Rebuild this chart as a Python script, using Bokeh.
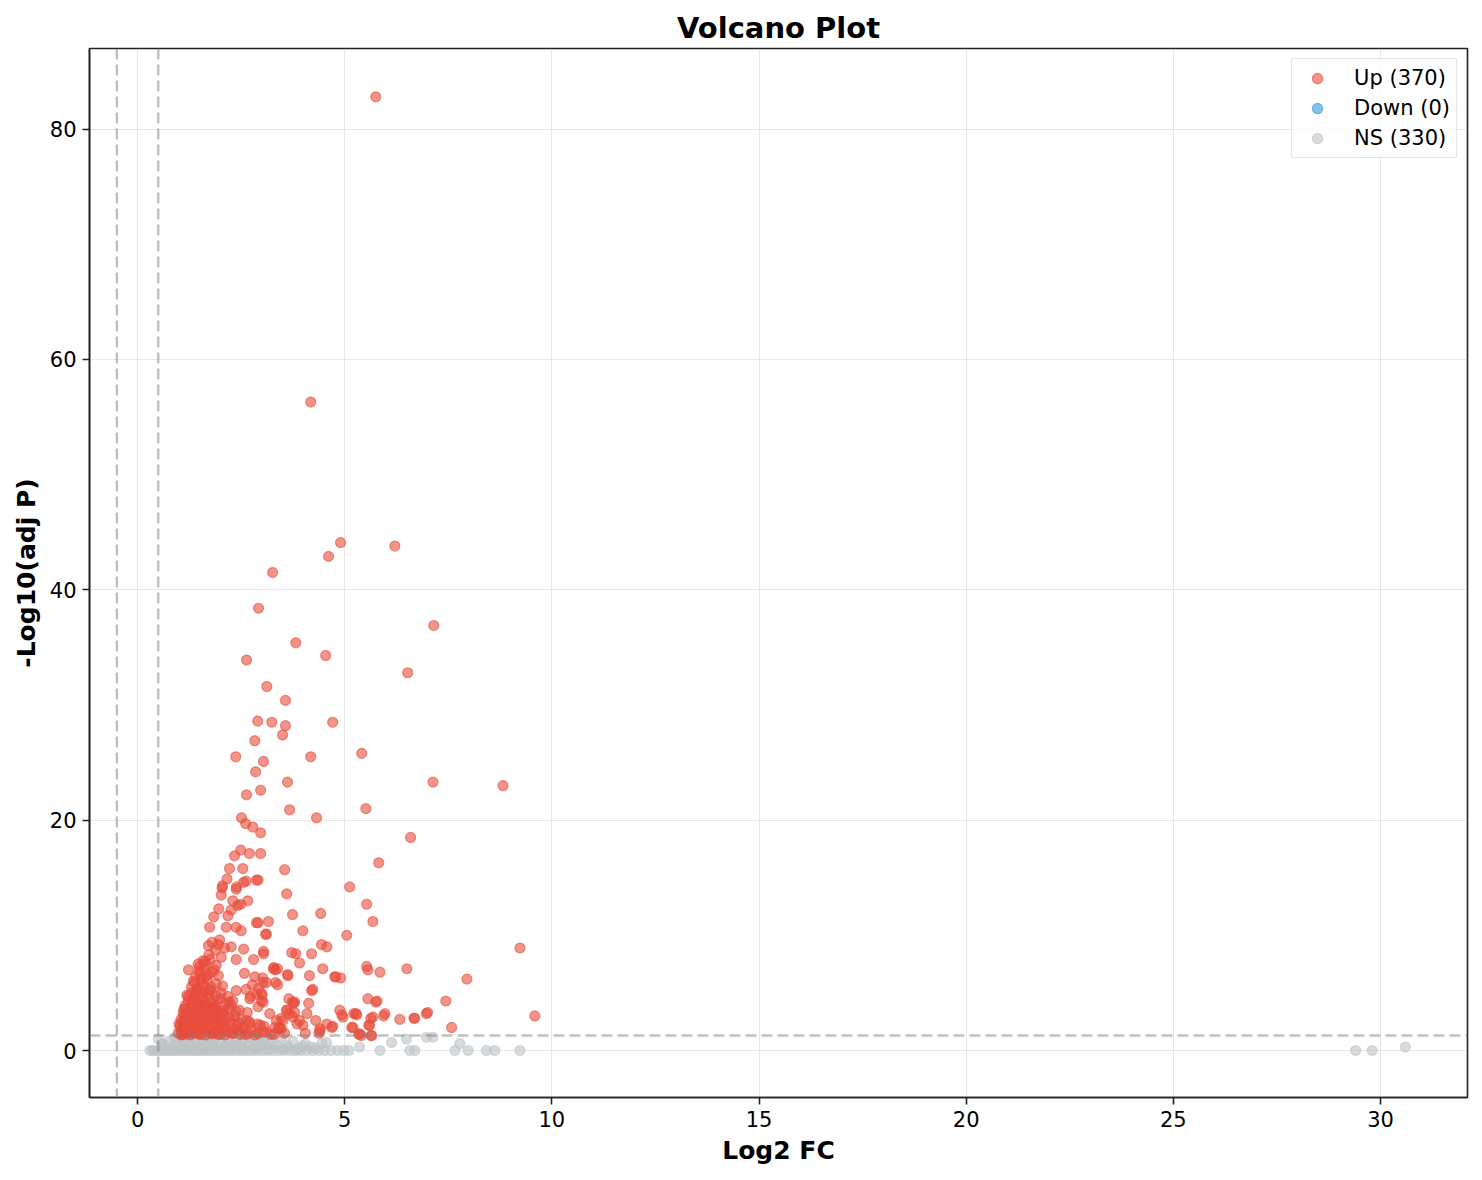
from bokeh.plotting import figure
from bokeh.models import Range1d, Span, Legend, LegendItem, FixedTicker, ColumnDataSource
from bokeh.embed import file_html
from bokeh.resources import INLINE

# counts shown in the legend
n_up = 370
n_down = 0
n_ns = 330

# significant, up-regulated genes (log2 fold change, -log10 adjusted p)
up_log2fc = [
    5.75, 4.18, 4.90, 6.21, 4.61, 3.26, 2.92, 7.15, 3.82, 4.54, 2.63, 6.52, 3.12, 3.57,
    2.90, 3.24, 4.71, 3.57, 3.50, 2.83, 2.37, 4.18, 5.41, 3.04, 2.85, 3.62, 7.13, 8.82,
    2.97, 2.63, 3.67, 5.51, 4.32, 2.51, 2.61, 2.78, 2.97, 6.59, 2.49, 2.70, 2.34, 2.97,
    5.82, 3.55, 2.54, 2.22, 2.87, 2.56, 5.12, 2.39, 2.05, 3.60, 5.53, 2.42, 3.74, 4.42,
    5.68, 3.16, 2.87, 3.99, 3.09, 5.05, 9.23, 4.44, 4.57, 3.72, 3.82, 3.04, 4.20, 3.91,
    3.28, 3.38, 5.53, 5.56, 6.50, 5.85, 4.47, 3.62, 4.15, 4.78, 4.90, 7.95, 3.02, 2.92,
    4.20, 3.38, 2.99, 2.73, 3.65, 5.56, 5.75, 7.44, 4.13, 3.74, 4.88, 4.93, 5.22, 5.29,
    5.94, 7.00, 9.59, 6.33, 6.67, 5.63, 4.57, 5.58, 5.17, 7.58, 4.71, 3.99, 4.40, 5.34,
    5.65,
    2.16, 2.62, 2.91, 2.04, 2.02, 2.38, 2.30, 2.49, 2.66, 2.26, 1.96, 1.84, 2.18, 1.74,
    2.14, 2.38, 2.50, 2.91, 3.11, 1.71, 1.98, 2.26, 2.56, 2.80, 3.04, 1.23, 1.46, 1.62,
    2.38, 2.58, 2.83, 3.29, 3.33, 3.63, 3.11, 3.33, 4.76, 2.62, 2.77, 3.03, 2.87, 2.99,
    3.01, 4.23, 3.77, 3.59, 4.09, 4.96, 5.27, 5.78, 5.68, 5.97, 5.60, 5.20, 5.40, 5.64,
    4.69, 4.40, 4.38, 3.19, 3.35, 3.47, 3.67, 3.91, 3.31, 3.47, 3.03, 2.63, 2.71, 2.54,
    2.30, 2.06, 2.46, 2.91, 3.03, 2.71, 2.38, 2.22, 1.94, 1.82, 2.22, 6.97, 6.69, 5.36,
    3.79, 3.61, 3.79, 3.75, 3.51, 3.43,
    0.98, 1.05, 1.10, 1.15, 1.20, 1.28, 1.35, 1.42, 1.50, 1.58, 1.66, 1.75, 1.83, 1.92,
    2.00, 2.10, 2.20, 2.30, 2.45, 2.60, 2.75, 2.90, 3.10, 3.30, 3.55,
    1.02, 1.08, 1.14, 1.20, 1.26, 1.33, 1.40, 1.47, 1.55, 1.62, 1.70, 1.80, 1.90, 2.00,
    2.12, 2.25, 2.40, 2.55, 2.70, 2.90, 3.05,
    1.05, 1.12, 1.18, 1.25, 1.31, 1.38, 1.45, 1.52, 1.60, 1.68, 1.77, 1.86, 1.97, 2.08,
    2.20, 2.35, 2.50,
    1.10, 1.16, 1.22, 1.29, 1.35, 1.42, 1.50, 1.57, 1.65, 1.74, 1.84, 1.95, 2.07, 2.20,
    2.38,
    1.15, 1.22, 1.30, 1.37, 1.44, 1.52, 1.60, 1.68, 1.77, 1.88, 2.00, 2.15, 2.30,
    1.22, 1.30, 1.38, 1.45, 1.52, 1.60, 1.68, 1.77, 1.88, 2.02, 2.18,
    1.30, 1.38, 1.46, 1.53, 1.60, 1.68, 1.78, 1.90, 2.05,
    1.40, 1.48, 1.55, 1.62, 1.70, 1.80, 1.95,
    1.50, 1.58, 1.65, 1.75, 1.90,
    1.00, 1.07, 1.13, 1.18, 1.24, 1.30, 1.37, 1.44, 1.52, 1.60, 1.72, 1.85, 1.96, 2.06,
    1.12, 1.19, 1.26, 1.33, 1.40, 1.47, 1.55, 1.63, 1.72, 1.82, 1.93,
    1.34, 1.42, 1.50, 1.57, 1.64, 1.73, 1.85,
    1.72, 1.80, 1.88, 1.95, 2.02, 2.10,
    1.06, 1.16, 1.27, 1.39, 1.51, 1.64, 1.79, 1.94, 2.11, 2.28, 2.48, 2.67, 2.84, 3.22,
    1.21, 1.34, 1.49, 1.66, 1.83, 2.04, 2.26, 2.44, 2.65, 2.96, 3.40, 3.85, 4.05, 4.30,
]
up_neglogp = [
    82.8, 56.3, 44.1, 43.8, 42.9, 41.5, 38.4, 36.9, 35.4, 34.3, 33.9, 32.8, 31.6, 30.4,
    28.6, 28.5, 28.5, 28.2, 27.4, 26.9, 25.5, 25.5, 25.8, 25.1, 24.2, 23.3, 23.3, 23.0,
    22.6, 22.2, 20.9, 21.0, 20.2, 20.2, 19.7, 19.4, 18.9, 18.5, 17.4, 17.1, 16.9, 17.1,
    16.3, 15.7, 15.8, 15.8, 14.8, 14.6, 14.2, 14.2, 14.3, 13.6, 12.7, 12.6, 11.8, 11.9,
    11.2, 11.2, 11.1, 10.4, 10.1, 10.0, 8.9, 9.2, 9.0, 8.5, 8.4, 8.4, 8.4, 7.6,
    7.1, 7.1, 7.3, 7.0, 7.1, 6.8, 7.1, 6.6, 6.5, 6.4, 6.3, 6.2, 6.3, 5.4,
    5.2, 5.7, 5.0, 4.7, 4.5, 4.5, 4.2, 4.3, 4.1, 4.2, 3.5, 3.1, 3.2, 3.1,
    3.0, 3.3, 3.0, 2.7, 2.8, 2.8, 2.3, 2.2, 2.0, 2.0, 2.1, 2.2, 1.7, 1.4,
    1.3,
    14.9, 14.7, 14.8, 14.1, 13.5, 14.0, 13.0, 12.7, 13.0, 12.2, 12.3, 11.6, 11.7, 10.7,
    10.7, 10.7, 10.4, 11.1, 10.1, 9.1, 9.6, 9.0, 8.8, 7.9, 8.6, 7.0, 7.5, 7.7,
    7.9, 6.7, 6.4, 7.2, 7.0, 6.5, 5.9, 5.9, 6.4, 5.3, 5.7, 5.9, 4.9, 4.3,
    4.8, 5.3, 4.1, 3.5, 3.2, 2.9, 3.2, 4.3, 2.9, 3.2, 2.2, 2.0, 1.3, 1.3,
    2.0, 1.9, 1.5, 3.2, 2.6, 2.8, 3.2, 2.6, 2.0, 1.9, 1.6, 2.6, 2.3, 1.9,
    1.9, 1.7, 3.5, 3.8, 4.2, 4.5, 5.2, 4.2, 3.5, 2.9, 2.9, 3.2, 2.8, 1.45,
    4.2, 3.5, 3.3, 2.9, 2.6, 2.0,
    1.5, 1.8, 1.4, 1.9, 1.6, 1.5, 2.0, 1.7, 1.4, 1.9, 1.6, 1.8, 1.5, 1.7,
    1.4, 1.9, 1.6, 1.5, 1.8, 1.4, 1.7, 1.5, 1.6, 1.4, 1.5,
    2.1, 2.4, 2.2, 2.6, 2.0, 2.3, 2.5, 2.1, 2.4, 2.2, 2.6, 2.0, 2.3, 2.5,
    2.1, 2.4, 2.2, 2.0, 2.5, 2.3, 2.1,
    2.7, 3.0, 2.8, 3.2, 2.9, 2.6, 3.1, 2.8, 3.0, 2.7, 3.2, 2.9, 2.6, 3.1,
    2.8, 3.0, 2.7,
    3.3, 3.6, 3.4, 3.8, 3.2, 3.5, 3.7, 3.3, 3.6, 3.4, 3.8, 3.2, 3.5, 3.7,
    3.4,
    3.9, 4.3, 4.0, 4.5, 4.1, 3.8, 4.4, 4.0, 4.2, 3.9, 4.5, 4.1, 4.3,
    4.7, 5.0, 4.6, 5.3, 4.9, 5.1, 4.6, 5.2, 4.8, 5.0, 4.7,
    5.5, 5.9, 5.4, 6.1, 5.7, 6.2, 5.5, 5.8, 5.6,
    6.4, 6.9, 6.3, 7.1, 6.6, 6.8, 6.5,
    7.3, 7.8, 7.5, 7.9, 7.4,
    2.3, 1.6, 2.7, 2.1, 2.8, 1.8, 2.6, 2.9, 2.2, 2.5, 2.0, 2.7, 1.9, 2.4,
    3.6, 4.8, 3.1, 4.2, 4.9, 3.4, 4.6, 3.9, 4.9, 3.6, 4.4,
    6.0, 5.2, 6.7, 5.6, 6.4, 5.3, 7.0,
    8.3, 9.4, 8.7, 9.2, 8.1, 8.9,
    1.35, 1.45, 1.35, 1.5, 1.4, 1.35, 1.45, 1.4, 1.35, 1.5, 1.4, 1.45, 1.35, 1.4,
    2.9, 3.4, 4.0, 3.2, 3.6, 3.3, 3.9, 2.4, 3.3, 2.2, 1.9, 2.3, 1.5, 2.6,
]

# down-regulated genes: none in this comparison
down_log2fc = []
down_neglogp = []

# not significant genes
ns_log2fc = [
    0.30, 0.36, 0.42, 0.48, 0.55, 0.62, 0.70, 0.78, 0.85, 0.92, 1.00, 1.08, 1.16, 1.24,
    1.32, 1.40, 1.48, 1.56, 1.64, 1.72, 1.80, 1.88, 1.96, 2.05, 2.14, 2.23, 2.32, 2.42,
    2.52, 2.62, 2.72, 2.83, 2.94, 3.05, 3.17, 3.29, 3.41, 3.54, 3.67, 3.80, 3.94, 4.08,
    4.22, 4.37, 4.52, 4.67, 4.82, 4.98, 5.10, 5.85, 6.57, 6.69, 7.66, 7.98, 8.42, 8.62,
    9.23, 29.4, 29.8,
    0.50, 0.60, 0.75, 0.90, 1.00, 1.10, 1.20, 1.30, 1.40, 1.50, 1.60, 1.70, 1.80, 1.90,
    2.00, 2.10, 2.20, 2.30, 2.40, 2.50, 2.60, 2.70, 2.80, 2.90, 3.00, 3.10, 3.20, 3.30,
    3.45, 3.60, 3.75, 3.90, 4.05, 4.20, 4.56, 5.36, 6.13, 6.49, 6.97, 7.13, 7.78, 30.6,
    0.80, 1.05, 1.35, 1.65, 1.95, 2.25, 2.55, 2.85, 3.15, 3.50, 3.85, 1.25, 1.55, 1.85,
    2.15, 2.45, 2.75, 3.05, 0.95, 0.65, 1.15, 1.75, 2.35,
    0.58, 0.88, 1.12, 1.44, 1.78, 2.08, 2.38, 2.68, 2.98, 3.34, 3.64, 3.98, 4.30, 4.45,
]
ns_neglogp = [
    0.0, 0.0, 0.0, 0.0, 0.0, 0.0, 0.0, 0.0, 0.0, 0.0, 0.0, 0.0, 0.0, 0.0,
    0.0, 0.0, 0.0, 0.0, 0.0, 0.0, 0.0, 0.0, 0.0, 0.0, 0.0, 0.0, 0.0, 0.0,
    0.0, 0.0, 0.0, 0.0, 0.0, 0.0, 0.0, 0.0, 0.0, 0.0, 0.0, 0.0, 0.0, 0.0,
    0.0, 0.0, 0.0, 0.0, 0.0, 0.0, 0.0, 0.0, 0.0, 0.0, 0.0, 0.0, 0.0, 0.0,
    0.0, 0.0, 0.0,
    1.0, 0.3, 0.8, 1.1, 0.5, 0.9, 0.2, 1.1, 0.6, 0.3, 1.0, 0.7, 0.4, 1.2,
    0.8, 0.2, 1.0, 0.5, 0.9, 0.3, 1.1, 0.6, 0.2, 0.9, 0.4, 1.0, 0.7, 0.3,
    1.1, 0.5, 0.8, 0.2, 0.6, 0.3, 0.7, 0.3, 0.7, 1.0, 1.15, 1.15, 0.6, 0.3,
    0.1, 0.15, 0.1, 0.2, 0.1, 0.15, 0.1, 0.1, 0.15, 0.1, 0.1, 0.4, 0.5, 0.9,
    0.6, 0.4, 1.0, 0.7, 0.7, 0.5, 1.2, 1.2, 1.2,
    0.6, 0.4, 0.8, 0.7, 0.5, 0.4, 0.7, 0.8, 0.6, 0.5, 0.3, 0.4, 0.2, 0.6,
]

fc_cutoff = 0.5
p_cutoff = 1.30103  # -log10(0.05)

FONT = "DejaVu Sans"

p = figure(width=1474, height=1172, output_backend="svg", toolbar_location=None,
           x_range=Range1d(-1.16, 32.1), y_range=Range1d(-4.08, 87.0),
           min_border_left=89, min_border_right=7, min_border_top=48, min_border_bottom=75)

p.title.text = "Volcano Plot"
p.title.align = "center"
p.title.text_font = FONT
p.title.text_font_size = "29px"
p.title.text_font_style = "bold"
p.title.text_color = "black"
p.title.standoff = 7

p.xaxis.axis_label = "Log2 FC"
p.yaxis.axis_label = "-Log10(adj P)"
for ax in (p.xaxis, p.yaxis):
    ax.axis_label_text_font = FONT
    ax.axis_label_text_font_size = "25px"
    ax.axis_label_text_font_style = "bold"
    ax.axis_label_text_color = "black"
    ax.axis_label_standoff = 6
    ax.major_label_text_font = FONT
    ax.major_label_text_font_size = "21px"
    ax.major_label_text_color = "black"
    ax.major_label_standoff = 6
    ax.axis_line_width = 1.6
    ax.axis_line_color = "#222222"
    ax.major_tick_line_width = 1.6
    ax.major_tick_line_color = "#222222"
    ax.major_tick_out = 7
    ax.major_tick_in = 0
    ax.minor_tick_line_color = None
p.xaxis.ticker = FixedTicker(ticks=[0, 5, 10, 15, 20, 25, 30])
p.yaxis.ticker = FixedTicker(ticks=[0, 20, 40, 60, 80])

p.outline_line_color = "#222222"
p.outline_line_width = 1.6
p.outline_line_alpha = 1.0
p.grid.grid_line_color = "#b0b0b0"
p.grid.grid_line_alpha = 0.3

for loc, dim in ((-fc_cutoff, "height"), (fc_cutoff, "height"), (p_cutoff, "width")):
    p.add_layout(Span(location=loc, dimension=dim, line_color="gray", line_alpha=0.5,
                      line_width=2.4, line_dash="11 5"))

up_src = ColumnDataSource(dict(x=up_log2fc, y=up_neglogp))
down_src = ColumnDataSource(dict(x=down_log2fc, y=down_neglogp))
ns_src = ColumnDataSource(dict(x=ns_log2fc, y=ns_neglogp))

r_ns = p.scatter("x", "y", source=ns_src, size=10, color="#bdc3c7", alpha=0.6, line_width=1.2)
r_down = p.scatter("x", "y", source=down_src, size=10, color="#3498db", alpha=0.6, line_width=1.2)
r_up = p.scatter("x", "y", source=up_src, size=10, color="#e74c3c", alpha=0.6, line_width=1.2)
# legend swatch for the empty "Down" group (NaN point is never drawn in the plot)
r_down_key = p.scatter(x=[float("nan")], y=[float("nan")], size=10, color="#3498db",
                       alpha=0.6, line_width=1.2)

legend = Legend(items=[
    LegendItem(label="Up (%d)" % n_up, renderers=[r_up]),
    LegendItem(label="Down (%d)" % n_down, renderers=[r_down_key]),
    LegendItem(label="NS (%d)" % n_ns, renderers=[r_ns]),
], location="top_right")
legend.label_text_font = FONT
legend.label_text_font_size = "21px"
legend.label_text_color = "black"
legend.glyph_width = 38
legend.glyph_height = 26
legend.label_height = 26
legend.spacing = 4
legend.padding = 6
legend.margin = 10
legend.label_standoff = 18
legend.border_line_color = "#cccccc"
legend.border_line_width = 1.2
legend.background_fill_alpha = 0.8
p.add_layout(legend)

open("out.html", "w").write(file_html(p, INLINE))
